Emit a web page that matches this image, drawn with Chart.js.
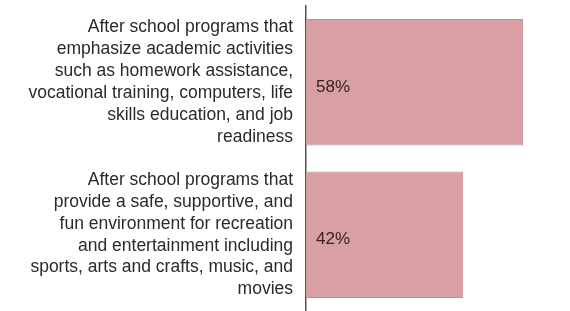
<!DOCTYPE html>
<html>
<head>
<meta charset="utf-8">
<script src="https://cdn.jsdelivr.net/npm/chart.js@4"></script>
<style>
  html, body { margin: 0; padding: 0; background: #fff; }
  #wrap { width: 570px; height: 311px; position: relative; }
</style>
</head>
<body>
<div id="wrap"><canvas id="barChart"></canvas></div>
<script>
const categories = [
    ["After school programs that", "emphasize academic activities", "such as homework assistance,", "vocational training, computers, life", "skills education, and job", "readiness"],
    ["After school programs that", "provide a safe, supportive, and", "fun environment for recreation", "and entertainment including", "sports, arts and crafts, music, and", "movies"]
];
const values = [58, 42];
const valueLabels = ["58%", "42%"];

// writes the percent inside each bar, near its base
const barLabels = {
    id: "barLabels",
    afterDatasetsDraw(chart) {
        const ctx = chart.ctx;
        const meta = chart.getDatasetMeta(0);
        ctx.save();
        ctx.font = "17px 'Liberation Sans', Arial, sans-serif";
        ctx.fillStyle = "#3b2222";
        ctx.textAlign = "left";
        ctx.textBaseline = "middle";
        meta.data.forEach((bar, i) => {
            ctx.fillText(valueLabels[i], bar.base + 10, bar.y + 5);
        });
        ctx.restore();
    }
};

const barCtx = document.getElementById("barChart").getContext("2d");

window.barChartInstance = new Chart(barCtx, {
    type: "bar",
    data: {
        labels: categories,
        datasets: [{
            data: values,
            backgroundColor: "#d8a0a4",
            borderColor: "#c98c91",
            borderWidth: 1,
            barPercentage: 1,
            categoryPercentage: 0.83
        }]
    },
    options: {
        indexAxis: "y",
        responsive: true,
        maintainAspectRatio: false,
        animation: false,
        layout: { padding: { top: 6, right: 2, bottom: 0, left: 0 } },
        plugins: {
            legend: { display: false },
            tooltip: { enabled: false }
        },
        scales: {
            x: {
                display: false,
                min: 0,
                max: 70
            },
            y: {
                afterFit(scale) {
                    scale.width = 306;
                    scale.paddingTop = 0;
                    scale.paddingBottom = 0;
                },
                grid: { display: false, drawTicks: false },
                border: { display: true, color: "#5a5050", width: 1.5 },
                ticks: {
                    autoSkip: false,
                    padding: 13,
                    color: "#2a2a2a",
                    font: { family: "'Liberation Sans', Arial, sans-serif", size: 17.5, lineHeight: 1.25 }
                }
            }
        }
    },
    plugins: [barLabels]
});
</script>
</body>
</html>
